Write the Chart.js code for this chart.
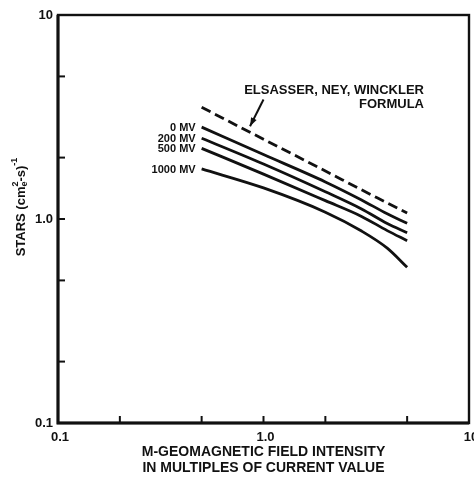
<!DOCTYPE html>
<html><head><meta charset="utf-8">
<script src="https://cdn.jsdelivr.net/npm/chart.js@4/dist/chart.umd.min.js"></script>
<style>html,body{margin:0;padding:0;background:#fff;overflow:hidden}</style>
</head><body>
<canvas id="c" width="474" height="477"></canvas>
<script>
// ---- data ----
const xValues     = [0.5, 1, 2, 3, 4, 5];
const ewnFormula  = [3.53, 2.46, 1.72, 1.39, 1.20, 1.07];
const mv0         = [2.82, 2.07, 1.52, 1.24, 1.06, 0.953];
const mv200       = [2.49, 1.86, 1.36, 1.12, 0.95, 0.857];
const mv500       = [2.22, 1.66, 1.23, 1.03, 0.877, 0.783];
const mv1000      = [1.76, 1.42, 1.08, 0.873, 0.72, 0.58];
const curveLabels = ['0 MV', '200 MV', '500 MV', '1000 MV'];
const formulaLabel = ['ELSASSER, NEY, WINCKLER', 'FORMULA'];
const minorTicks  = [0.2, 0.5, 1, 2, 5];
const xTickLabels = [[0.1, '0.1'], [1, '1.0'], [10, '10']];
const yTickLabels = [[0.1, '0.1'], [1, '1.0'], [10, '10']];
const xTitle = ['M-GEOMAGNETIC FIELD INTENSITY', 'IN MULTIPLES OF CURRENT VALUE'];

const FONT = "'Liberation Sans', Arial, sans-serif";
const INK = '#111';
const pts = arr => arr.map((v, i) => ({x: xValues[i], y: v}));
const solid = (arr) => ({data: pts(arr), borderColor: INK, borderWidth: 2.8, pointRadius: 0,
  fill: false, cubicInterpolationMode: 'monotone'});

const decor = {
  id: 'decor',
  afterDraw(chart) {
    const {ctx, chartArea: a, scales: {x, y}} = chart;
    ctx.save();
    ctx.strokeStyle = INK; ctx.fillStyle = INK; ctx.lineCap = 'butt';
    // frame
    ctx.lineWidth = 2.4;
    ctx.strokeRect(a.left, a.top, a.right - a.left, a.bottom - a.top);
    ctx.lineWidth = 3;
    ctx.beginPath(); ctx.moveTo(a.left, a.top); ctx.lineTo(a.left, a.bottom); ctx.lineTo(a.right, a.bottom); ctx.stroke();
    // inward ticks
    ctx.lineWidth = 2;
    minorTicks.forEach(v => {
      const px = x.getPixelForValue(v);
      ctx.beginPath(); ctx.moveTo(px, a.bottom); ctx.lineTo(px, a.bottom - 7); ctx.stroke();
      const py = y.getPixelForValue(v);
      ctx.beginPath(); ctx.moveTo(a.left, py); ctx.lineTo(a.left + 7, py); ctx.stroke();
    });
    // tick labels
    ctx.font = 'bold 13px ' + FONT;
    ctx.textAlign = 'center'; ctx.textBaseline = 'top';
    xTickLabels.forEach(([v, t]) => ctx.fillText(t, x.getPixelForValue(v) + 2, a.bottom + 8));
    ctx.textAlign = 'right'; ctx.textBaseline = 'middle';
    yTickLabels.forEach(([v, t]) => ctx.fillText(t, a.left - 5, y.getPixelForValue(v)));
    // x title
    ctx.font = 'bold 14px ' + FONT;
    ctx.textAlign = 'center';
    const cx = (a.left + a.right) / 2;
    ctx.fillText(xTitle[0], cx, a.bottom + 29);
    ctx.fillText(xTitle[1], cx, a.bottom + 45);
    // y title with super/subscripts
    ctx.save();
    ctx.translate(21, (a.top + a.bottom) / 2 - 12);
    ctx.rotate(-Math.PI / 2);
    const big = 'bold 13px ' + FONT, small = 'bold 9px ' + FONT;
    const parts = [['STARS (cm', big, 0], ['2', small, -5, true], ['-s)', big, 0], ['-1', small, -6]];
    let total = 0;
    parts.forEach(p => { ctx.font = p[1]; p.w = ctx.measureText(p[0]).width; total += p.w; });
    let px = -total / 2;
    ctx.textAlign = 'left'; ctx.textBaseline = 'middle';
    parts.forEach(p => {
      ctx.font = p[1];
      ctx.fillText(p[0], px, p[2]);
      if (p[3]) ctx.fillText('e', px, 4);
      px += p.w;
    });
    ctx.restore();
    // curve labels
    ctx.font = 'bold 11px ' + FONT;
    ctx.textAlign = 'right'; ctx.textBaseline = 'middle';
    const sets = [mv0, mv200, mv500, mv1000];
    curveLabels.forEach((t, i) => {
      ctx.fillText(t, x.getPixelForValue(xValues[0]) - 6, y.getPixelForValue(sets[i][0]) + 1);
    });
    // formula label and arrow
    ctx.font = 'bold 13px ' + FONT;
    ctx.textAlign = 'right';
    const rx = x.getPixelForValue(6.04);
    ctx.fillText(formulaLabel[0], rx, y.getPixelForValue(4.29));
    ctx.fillText(formulaLabel[1], rx, y.getPixelForValue(3.66));
    const x0 = x.getPixelForValue(1.0), y0 = y.getPixelForValue(3.85);
    const x1 = x.getPixelForValue(0.86), y1 = y.getPixelForValue(2.85);
    ctx.lineWidth = 2;
    ctx.beginPath(); ctx.moveTo(x0, y0); ctx.lineTo(x1, y1); ctx.stroke();
    const ang = Math.atan2(y1 - y0, x1 - x0);
    ctx.beginPath();
    ctx.moveTo(x1, y1);
    ctx.lineTo(x1 - 9 * Math.cos(ang - 0.35), y1 - 9 * Math.sin(ang - 0.35));
    ctx.lineTo(x1 - 9 * Math.cos(ang + 0.35), y1 - 9 * Math.sin(ang + 0.35));
    ctx.closePath(); ctx.fill();
    ctx.restore();
  }
};

new Chart(document.getElementById('c'), {
  type: 'line',
  data: {
    datasets: [
      Object.assign(solid(ewnFormula), {borderDash: [10, 5], label: formulaLabel.join(' ')}),
      Object.assign(solid(mv0), {label: curveLabels[0]}),
      Object.assign(solid(mv200), {label: curveLabels[1]}),
      Object.assign(solid(mv500), {label: curveLabels[2]}),
      Object.assign(solid(mv1000), {label: curveLabels[3]})
    ]
  },
  options: {
    responsive: false, animation: false, devicePixelRatio: 1,
    layout: {padding: {left: 58, right: 5, top: 15, bottom: 54}},
    plugins: {legend: {display: false}, tooltip: {enabled: false}},
    scales: {
      x: {type: 'logarithmic', min: 0.1, max: 10, display: false},
      y: {type: 'logarithmic', min: 0.1, max: 10, display: false}
    }
  },
  plugins: [decor]
});
</script>
</body></html>
